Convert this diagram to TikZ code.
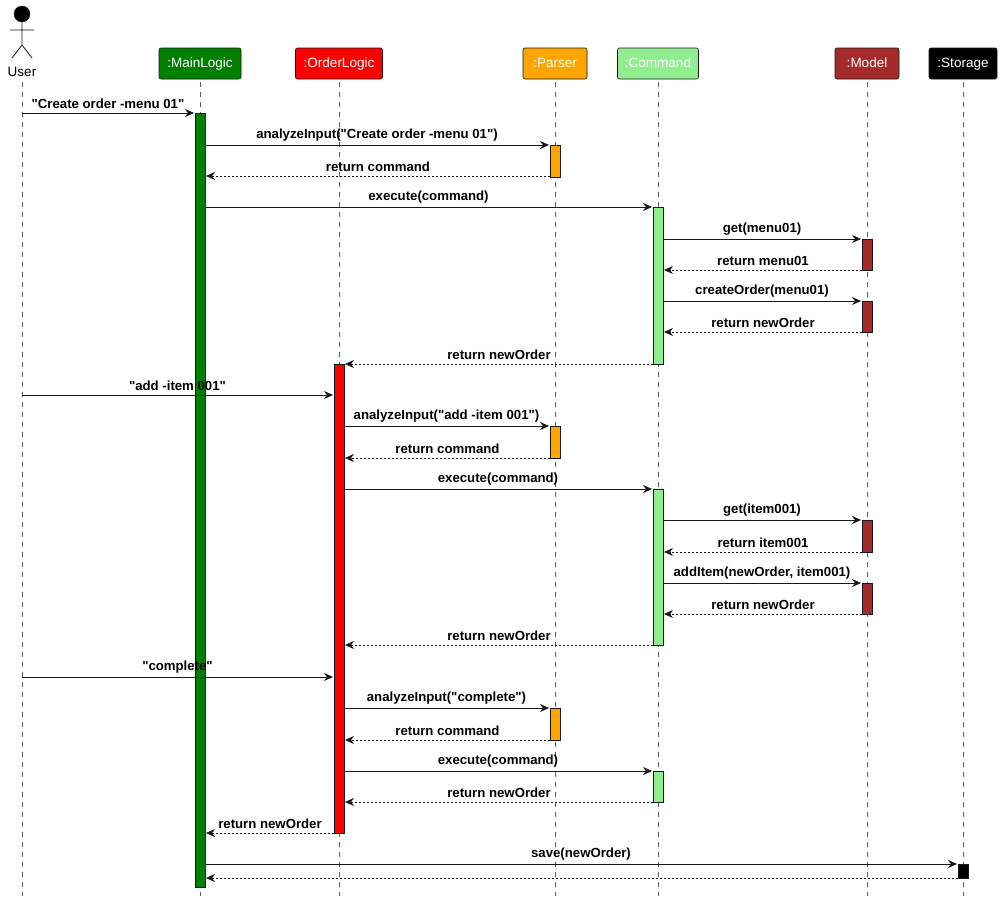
\documentclass[tikz,border=0pt]{standalone}
\usepackage{fontspec}
\setmainfont{Liberation Sans}[Ligatures=TeXOff]
\usetikzlibrary{arrows.meta}
\definecolor{cGreen}{HTML}{008000}
\definecolor{cOrange}{HTML}{FFA500}
\definecolor{cLight}{HTML}{90EE90}
\definecolor{cBrown}{HTML}{A52A2A}
\definecolor{cLine}{HTML}{181818}
\newcommand{\dq}{"}
\tikzset{
  hdr/.style={draw=cLine,line width=0.6pt,rounded corners=2pt,minimum height=31pt,inner sep=0pt,text=white,font=\fontsize{13.5}{15}\selectfont,text height=10pt,text depth=3pt},
  life/.style={draw=cLine!70,dash pattern=on 5pt off 5pt,line width=0.5pt},
  act/.style={draw=cLine,line width=0.6pt},
  msgline/.style={draw=cLine,line width=0.6pt,-{Stealth[length=9pt,width=8pt,inset=3pt]}},
  retline/.style={msgline,dash pattern=on 2pt off 2pt},
  lbl/.style={font=\bfseries\fontsize{13.2}{15}\selectfont,inner sep=1pt,anchor=south}
}
\newcommand{\msgto}[6]{% name, y, x1, x2, label, style
  \coordinate (#1s) at (#3,#2);
  \coordinate (#1e) at (#4,#2);
  \draw[#6] (#1s) -- (#1e);
  \path (#1s) -- (#1e) node[lbl,midway,yshift=3pt] (#1l) {#5};}
\begin{document}
\begin{tikzpicture}[x=1pt,y=-1pt]
\useasboundingbox (0,0) rectangle (1002,902);
% lifelines
\foreach \n/\x in {u/22,ml/200,ol/339,pa/555,co/658,mo/867,st/963}{
  \coordinate (\n top) at (\x,82);
  \coordinate (\n bot) at (\x,896);
  \draw[life] (\n top) -- (\n bot);}
% actor
\node[draw=cLine,fill=black,circle,minimum size=16pt,inner sep=0pt] (uhead) at (22,14) {};
\draw[cLine,line width=0.8pt] (22,22) -- (22,45) (10,30) -- (34,30) (22,45) -- (12,58) (22,45) -- (32,58);
\node[font=\fontsize{13.5}{15}\selectfont] (ulabel) at (22,72) {User};
% headers
\node[hdr,fill=cGreen,minimum width=82pt] (hml) at (200,63.5) {:MainLogic};
\node[hdr,fill=red,minimum width=87pt] (hol) at (339,63.5) {:OrderLogic};
\node[hdr,fill=cOrange,minimum width=64pt] (hpa) at (555,63.5) {:Parser};
\node[hdr,fill=cLight,minimum width=81pt] (hco) at (658,63.5) {:Command};
\node[hdr,fill=cBrown,minimum width=64pt] (hmo) at (867,63.5) {:Model};
\node[hdr,fill=black,minimum width=68pt] (hst) at (963,63.5) {:Storage};
% activations
\draw[act,fill=cGreen] (195,113) rectangle (205,887);
\draw[act,fill=red] (334,364) rectangle (344,833);
\foreach \a/\b in {145/177,426/458,708/740}{\draw[act,fill=cOrange] (550,\a) rectangle (560,\b);}
\foreach \a/\b in {207/364,489/645,771/802}{\draw[act,fill=cLight] (653,\a) rectangle (663,\b);}
\foreach \a/\b in {239/270,301/332,520/552,583/614}{\draw[act,fill=cBrown] (862,\a) rectangle (872,\b);}
\draw[act,fill=black] (958,864) rectangle (968,878);
% messages
\msgto{m1}{113}{22}{194}{\dq Create order -menu 01\dq}{msgline}
\msgto{m2}{145}{205}{549}{analyzeInput(\dq Create order -menu 01\dq)}{msgline}
\msgto{m3}{176}{550}{206}{return command}{retline}
\msgto{m4}{207}{205}{652}{execute(command)}{msgline}
\msgto{m5}{239}{663}{861}{get(menu01)}{msgline}
\msgto{m6}{270}{862}{664}{return menu01}{retline}
\msgto{m7}{301}{663}{861}{createOrder(menu01)}{msgline}
\msgto{m8}{332}{862}{664}{return newOrder}{retline}
\msgto{m9}{364}{653}{345}{return newOrder}{retline}
\msgto{m10}{395}{22}{333}{\dq add -item 001\dq}{msgline}
\msgto{m11}{426}{344}{549}{analyzeInput(\dq add -item 001\dq)}{msgline}
\msgto{m12}{458}{550}{345}{return command}{retline}
\msgto{m13}{489}{344}{652}{execute(command)}{msgline}
\msgto{m14}{520}{663}{861}{get(item001)}{msgline}
\msgto{m15}{552}{862}{664}{return item001}{retline}
\msgto{m16}{583}{663}{861}{addItem(newOrder, item001)}{msgline}
\msgto{m17}{614}{862}{664}{return newOrder}{retline}
\msgto{m18}{645}{653}{345}{return newOrder}{retline}
\msgto{m19}{677}{22}{333}{\dq complete\dq}{msgline}
\msgto{m20}{708}{344}{549}{analyzeInput(\dq complete\dq)}{msgline}
\msgto{m21}{740}{550}{345}{return command}{retline}
\msgto{m22}{771}{344}{652}{execute(command)}{msgline}
\msgto{m23}{802}{653}{345}{return newOrder}{retline}
\msgto{m24}{833}{334}{206}{return newOrder}{retline}
\msgto{m25}{864}{205}{957}{save(newOrder)}{msgline}
\coordinate (m26s) at (958,878);
\coordinate (m26e) at (206,878);
\draw[retline] (m26s) -- (m26e);
\end{tikzpicture}
\end{document}
